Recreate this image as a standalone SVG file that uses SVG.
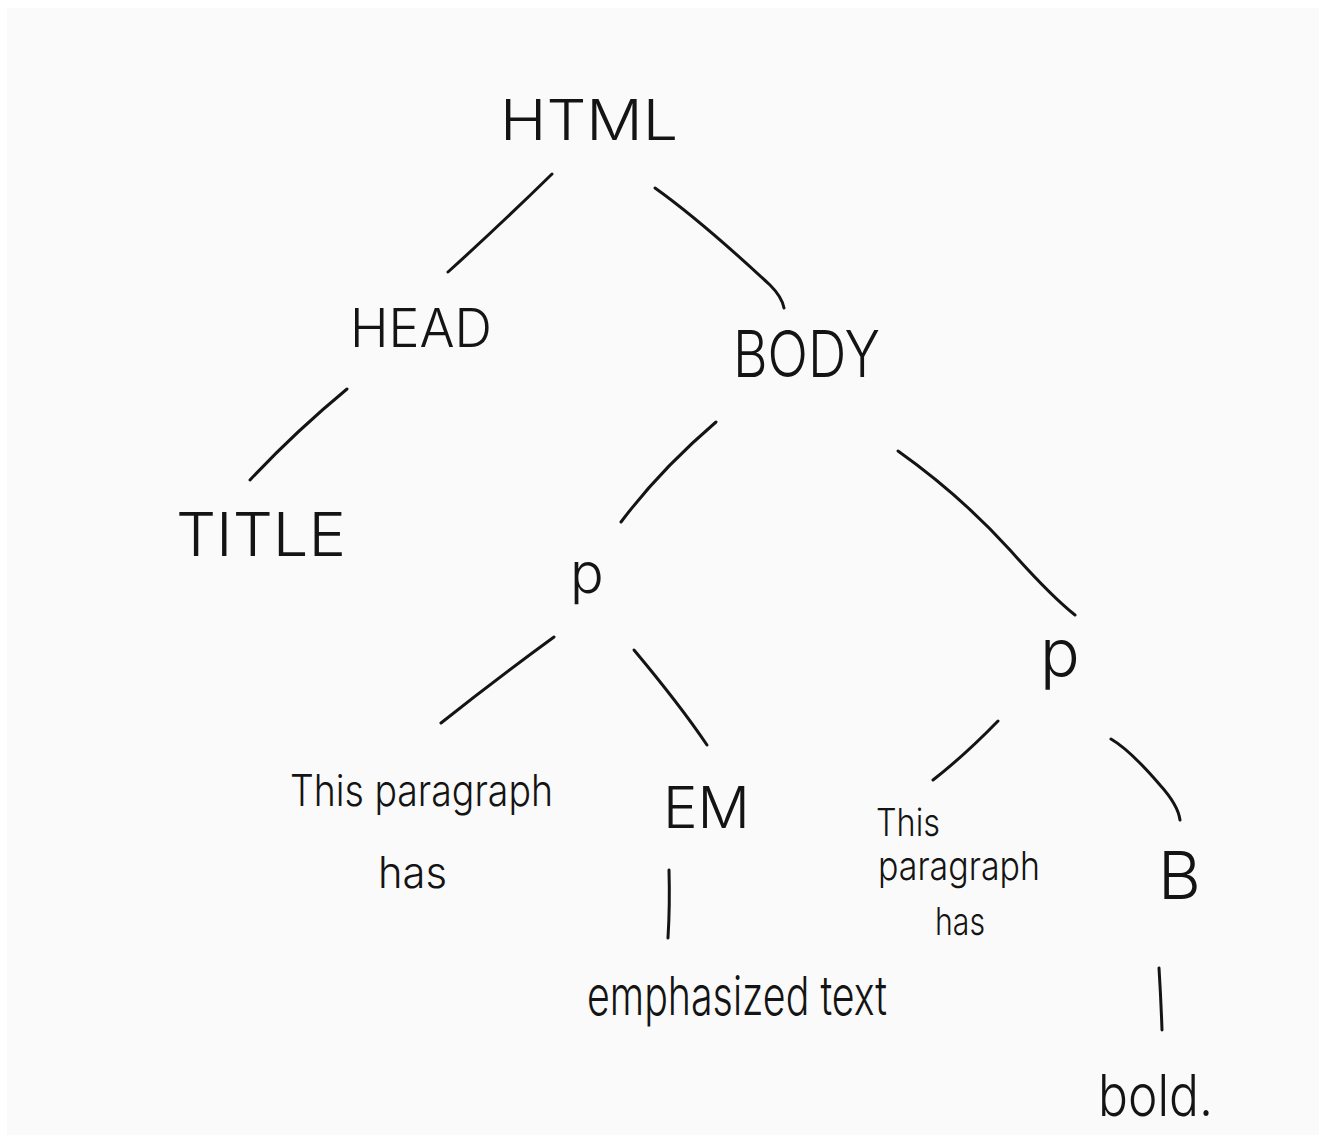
<svg xmlns="http://www.w3.org/2000/svg" width="1326" height="1135" viewBox="0 0 1326 1135">
<style>
.lbl{font-family:Inter,"Liberation Sans",sans-serif;font-weight:300;fill:#141414}
.edge{fill:none;stroke:#141414;stroke-width:3;stroke-linecap:round}
</style>
<rect x="0" y="0" width="1326" height="1135" fill="#ffffff"/>
<rect x="7" y="8" width="1312" height="1127" fill="#fafafa"/>
<g id="connectors">
<path class="edge" d="M552,174 Q500,225 448,272"/>
<path class="edge" d="M655,188 Q700,220 770,285 Q782,297 784,308"/>
<path class="edge" d="M347,389 Q295,432 250,480"/>
<path class="edge" d="M716,422 Q660,470 621,522"/>
<path class="edge" d="M898,451 Q960,495 1010,550 Q1050,595 1075,615"/>
<path class="edge" d="M554,637 Q495,680 441,723"/>
<path class="edge" d="M634,650 Q680,705 707,745"/>
<path class="edge" d="M998,721 Q965,755 933,780"/>
<path class="edge" d="M1111,739 Q1130,750 1160,785 Q1178,805 1180,820"/>
<path class="edge" d="M669,870 Q670,905 668,938"/>
<path class="edge" d="M1159,968 Q1161,1000 1162,1030"/>
</g>
<g id="html"><text class="lbl" x="500" y="140" font-size="56" textLength="178" lengthAdjust="spacingAndGlyphs">HTML</text></g>
<g id="head"><text class="lbl" x="350" y="347" font-size="54" textLength="142" lengthAdjust="spacingAndGlyphs">HEAD</text></g>
<g id="body"><text class="lbl" x="733" y="377" font-size="64" textLength="147" lengthAdjust="spacingAndGlyphs">BODY</text></g>
<g id="title"><text class="lbl" x="176" y="556" font-size="60" textLength="170" lengthAdjust="spacingAndGlyphs">TITLE</text></g>
<g id="p1"><text class="lbl" x="570" y="593" font-size="56">p</text></g>
<g id="p2"><text class="lbl" x="1040" y="676" font-size="66">p</text></g>
<g id="text1"><text class="lbl" x="290" y="806" font-size="44" textLength="263" lengthAdjust="spacingAndGlyphs">This paragraph</text>
<text class="lbl" x="378" y="888" font-size="44" textLength="69" lengthAdjust="spacingAndGlyphs">has</text></g>
<g id="em"><text class="lbl" x="663" y="828" font-size="58" textLength="87" lengthAdjust="spacingAndGlyphs">EM</text></g>
<g id="text2"><text class="lbl" x="876" y="836" font-size="38" textLength="64" lengthAdjust="spacingAndGlyphs">This</text>
<text class="lbl" x="878" y="880" font-size="40" textLength="162" lengthAdjust="spacingAndGlyphs">paragraph</text>
<text class="lbl" x="935" y="935" font-size="38" textLength="50" lengthAdjust="spacingAndGlyphs">has</text></g>
<g id="b"><text class="lbl" x="1158" y="899" font-size="66">B</text></g>
<g id="emtext"><text class="lbl" x="587" y="1015" font-size="54" textLength="300" lengthAdjust="spacingAndGlyphs">emphasized text</text></g>
<g id="bold"><text class="lbl" x="1098" y="1116" font-size="58" textLength="115" lengthAdjust="spacingAndGlyphs">bold.</text></g>
</svg>
